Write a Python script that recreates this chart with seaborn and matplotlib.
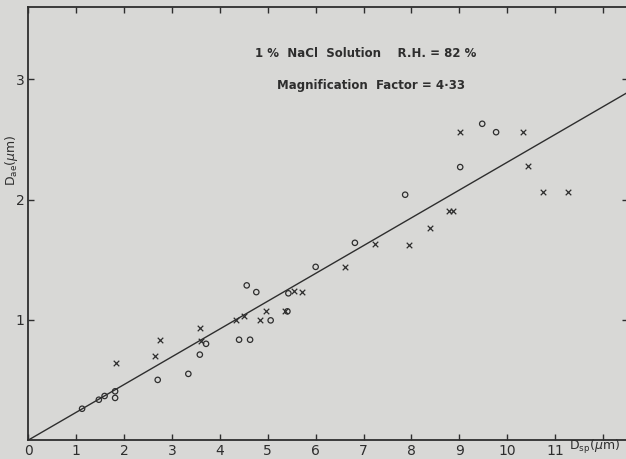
import numpy as np
import pandas as pd
import matplotlib
matplotlib.use("Agg")
import matplotlib.pyplot as plt
import seaborn as sns

circle_dsp = [1.12, 1.47, 1.59, 1.81, 1.81, 2.70, 3.34, 3.58, 3.71, 4.40, 4.63,
              4.56, 4.76, 5.06, 5.41, 5.43, 6.00, 6.82, 7.87, 9.02, 9.48, 9.77]
circle_dae = [0.26, 0.335, 0.366, 0.405, 0.35, 0.50, 0.55, 0.71, 0.80, 0.834, 0.834,
              1.286, 1.23, 0.995, 1.07, 1.22, 1.44, 1.64, 2.04, 2.27, 2.63, 2.56]
cross_dsp = [1.82, 2.75, 2.64, 3.58, 3.61, 4.33, 4.51, 4.96, 4.83, 5.36, 5.55, 5.71,
             6.61, 7.23, 7.96, 8.38, 8.78, 8.87, 9.01, 10.33, 10.43, 10.76, 11.27]
cross_dae = [0.64, 0.83, 0.70, 0.93, 0.825, 0.995, 1.03, 1.07, 0.997, 1.07, 1.24, 1.23,
             1.435, 1.63, 1.62, 1.76, 1.905, 1.905, 2.56, 2.56, 2.28, 2.06, 2.06]

magnification = 4.33
xticks = list(range(0, 13))
xtick_labels = [str(i) for i in range(0, 12)] + [""]
yticks = [1, 2, 3]

ink = "#2e2e2e"
paper = "#d8d8d6"

sns.set_style("ticks")
plt.rcParams["font.family"] = ["DejaVu Sans"]

fig = plt.figure(figsize=(6.26, 4.59), dpi=100)
fig.patch.set_facecolor(paper)
ax = fig.add_axes([0.0455, 0.0414, 0.958, 0.943])
ax.set_facecolor(paper)

circles = pd.DataFrame({"dsp": circle_dsp, "dae": circle_dae})
crosses = pd.DataFrame({"dsp": cross_dsp, "dae": cross_dae})

line_x = np.array([0, 12.6])
line = pd.DataFrame({"dsp": line_x, "dae": line_x / magnification})
sns.lineplot(data=line, x="dsp", y="dae", ax=ax, color=ink, linewidth=1.0)

sns.scatterplot(data=circles, x="dsp", y="dae", ax=ax, marker="o", s=15,
                facecolor="none", edgecolor=ink, linewidth=0.9)
sns.scatterplot(data=crosses, x="dsp", y="dae", ax=ax, marker="x", s=16,
                color=ink, linewidth=0.9)

ax.set_xlim(0, 12.53)
ax.set_ylim(0, 3.6)
ax.set_xticks(xticks)
ax.set_xticklabels(xtick_labels)
ax.set_yticks(yticks)
ax.set_yticklabels([str(v) for v in yticks])
ax.tick_params(direction="in", length=4, width=1, colors=ink, labelsize=10,
               top=True, right=True, pad=3)
for side in ax.spines.values():
    side.set_color(ink)
    side.set_linewidth(1.3)

ax.set_xlabel("")
ax.set_ylabel("")
fig.text(12 / 626, 1 - 160 / 459, r"D$_{\mathrm{ae}}$($\mu$m)", color=ink,
         fontsize=9, rotation=90, ha="center", va="center")
ax.text(11.3, -0.08, r"D$_{\mathrm{sp}}$($\mu$m)", color=ink, fontsize=9,
        ha="left", va="baseline")

ax.text(4.73, 3.215, "1 %  NaCl  Solution    R.H. = 82 %", color=ink,
        fontsize=8.5, ha="left", va="center", weight="semibold")
ax.text(5.2, 2.95, "Magnification  Factor = 4·33", color=ink,
        fontsize=8.5, ha="left", va="center", weight="semibold")

fig.savefig("out.png", dpi=100, facecolor=paper)
